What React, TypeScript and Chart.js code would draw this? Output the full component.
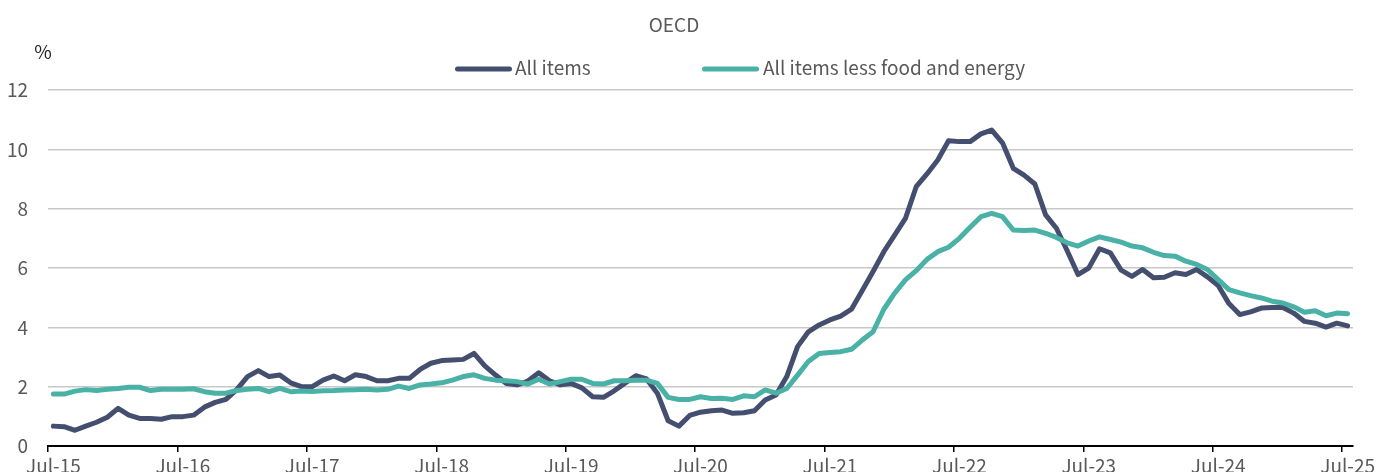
import React, { useEffect, useRef } from "react";
import { Chart, registerables } from "chart.js";

Chart.register(...registerables);

const FONT = '"Noto Sans CJK JP", "Noto Sans", sans-serif';
const TEXT_GRAY = "#595959";
const DARK = "#444e6e";
const TEAL = "#49b1a5";

const chartTitle = "OECD";
const unitLabel = "%";
const seriesNames = ["All items", "All items less food and energy"];

const tickLabels = [
  "Jul-15", "Jul-16", "Jul-17", "Jul-18", "Jul-19", "Jul-20",
  "Jul-21", "Jul-22", "Jul-23", "Jul-24", "Jul-25",
];

// Monthly, Jul-15 .. Jul-25 (121 months)
const allItems = [
  0.67, 0.65, 0.53, 0.67, 0.8, 0.97, 1.27, 1.04, 0.93, 0.93, 0.9, 0.99,
  0.99, 1.04, 1.31, 1.47, 1.57, 1.9, 2.34, 2.54, 2.34, 2.39, 2.13, 2.0,
  2.0, 2.22, 2.36, 2.2, 2.4, 2.34, 2.2, 2.2, 2.28, 2.28, 2.58, 2.79,
  2.88, 2.9, 2.92, 3.12, 2.7, 2.39, 2.11, 2.06, 2.19, 2.47, 2.2, 2.06,
  2.11, 1.96, 1.66, 1.64, 1.86, 2.12, 2.37, 2.26, 1.78, 0.85, 0.67, 1.03,
  1.14, 1.19, 1.21, 1.1, 1.12, 1.19, 1.55, 1.72, 2.34, 3.35, 3.85, 4.08,
  4.25, 4.38, 4.61, 5.24, 5.88, 6.55, 7.11, 7.67, 8.74, 9.17, 9.64, 10.29,
  10.26, 10.26, 10.52, 10.65, 10.22, 9.36, 9.13, 8.83, 7.79, 7.34, 6.58, 5.78,
  6.0, 6.65, 6.51, 5.93, 5.72, 5.95, 5.67, 5.69, 5.84, 5.78, 5.95, 5.7,
  5.41, 4.8, 4.43, 4.52, 4.65, 4.67, 4.67, 4.48, 4.2, 4.14, 4.01, 4.14,
  4.05,
];

const lessFoodEnergy = [
  1.75, 1.75, 1.85, 1.9, 1.87, 1.91, 1.94, 1.98, 1.98, 1.87, 1.91, 1.91,
  1.91, 1.93, 1.83, 1.78, 1.78, 1.87, 1.91, 1.94, 1.83, 1.94, 1.83, 1.85,
  1.84, 1.86, 1.87, 1.89, 1.9, 1.91, 1.89, 1.91, 2.02, 1.94, 2.06, 2.09,
  2.13, 2.22, 2.34, 2.4, 2.28, 2.22, 2.2, 2.17, 2.09, 2.25, 2.09, 2.17,
  2.25, 2.25, 2.11, 2.09, 2.2, 2.2, 2.22, 2.22, 2.11, 1.64, 1.57, 1.57,
  1.66, 1.6, 1.61, 1.57, 1.69, 1.66, 1.89, 1.78, 1.94, 2.39, 2.85, 3.12,
  3.15, 3.18, 3.26, 3.57, 3.85, 4.61, 5.15, 5.6, 5.91, 6.29, 6.55, 6.7,
  7.0, 7.37, 7.73, 7.84, 7.73, 7.28, 7.26, 7.28, 7.17, 7.03, 6.85, 6.74,
  6.91, 7.05, 6.96, 6.87, 6.74, 6.68, 6.53, 6.42, 6.4, 6.23, 6.12, 5.95,
  5.61, 5.27, 5.16, 5.07, 4.99, 4.88, 4.82, 4.69, 4.51, 4.56, 4.39, 4.48,
  4.46,
];

const yTicks = [0, 2, 4, 6, 8, 10, 12];

const toPoints = (arr: number[]) => arr.map((v, i) => ({ x: i, y: v }));

const overlayPlugin = {
  id: "overlayText",
  afterDraw(chart: any) {
    const ctx = chart.ctx as CanvasRenderingContext2D;
    ctx.save();
    ctx.font = `19px ${FONT}`;
    ctx.textBaseline = "middle";
    // title
    ctx.textAlign = "center";
    ctx.fillStyle = TEXT_GRAY;
    ctx.fillText(chartTitle, 674, 25);
    // unit
    ctx.fillStyle = "#262626";
    ctx.fillText(unitLabel, 43, 52);
    // legend
    const items = [
      { x0: 457.5, x1: 509.5, tx: 515, color: DARK, text: chart.data.datasets[1].label },
      { x0: 704.5, x1: 756.5, tx: 763, color: TEAL, text: chart.data.datasets[0].label },
    ];
    ctx.textAlign = "left";
    items.forEach((it) => {
      ctx.beginPath();
      ctx.lineWidth = 5;
      ctx.lineCap = "round";
      ctx.strokeStyle = it.color;
      ctx.moveTo(it.x0, 69);
      ctx.lineTo(it.x1, 69);
      ctx.stroke();
      ctx.fillStyle = TEXT_GRAY;
      ctx.fillText(it.text, it.tx, 68);
    });
    ctx.restore();
  },
};

export default function App() {
  const canvasRef = useRef<HTMLCanvasElement | null>(null);

  useEffect(() => {
    const canvas = canvasRef.current;
    if (!canvas) return;
    const chart = new Chart(canvas, {
      type: "line",
      data: {
        datasets: [
          {
            label: seriesNames[1],
            data: toPoints(lessFoodEnergy),
            borderColor: TEAL,
            backgroundColor: TEAL,
            borderWidth: 5,
            pointRadius: 0,
            tension: 0,
            borderJoinStyle: "round",
            borderCapStyle: "round",
          },
          {
            label: seriesNames[0],
            data: toPoints(allItems),
            borderColor: DARK,
            backgroundColor: DARK,
            borderWidth: 5,
            pointRadius: 0,
            tension: 0,
            borderJoinStyle: "round",
            borderCapStyle: "round",
          },
        ],
      },
      options: {
        responsive: false,
        animation: false,
        layout: { padding: { top: 90, right: 31, left: 0, bottom: 0 } },
        plugins: {
          legend: { display: false },
          title: { display: false },
          tooltip: { enabled: false },
        },
        scales: {
          x: {
            type: "linear",
            min: -0.5,
            max: 120.5,
            afterBuildTicks: (scale: any) => {
              scale.ticks = tickLabels.map((_, k) => ({ value: -0.5 + 12 * k }));
            },
            afterFit: (scale: any) => {
              scale.height = 34;
            },
            ticks: {
              autoSkip: false,
              maxRotation: 0,
              minRotation: 0,
              padding: 2,
              labelOffset: 5.4,
              color: TEXT_GRAY,
              font: { family: FONT, size: 19 },
              callback: (_v: any, index: number) => tickLabels[index],
            },
            grid: {
              display: true,
              drawOnChartArea: false,
              drawTicks: true,
              tickLength: 6,
              color: "#000000",
              lineWidth: 1.5,
            },
            border: { display: true, color: "#000000", width: 2 },
          },
          y: {
            type: "linear",
            min: 0,
            max: 12,
            afterBuildTicks: (scale: any) => {
              scale.ticks = yTicks.map((v) => ({ value: v }));
            },
            afterFit: (scale: any) => {
              scale.width = 48;
            },
            ticks: {
              padding: 20,
              color: TEXT_GRAY,
              font: { family: FONT, size: 19 },
              callback: (v: any) => String(v),
            },
            grid: {
              color: "#c8c8c8",
              lineWidth: 1.5,
              drawTicks: false,
            },
            border: { display: false },
          },
        },
      },
      plugins: [overlayPlugin],
    } as any);
    return () => chart.destroy();
  }, []);

  return (
    <div
      style={{
        position: "fixed",
        left: 0,
        top: 0,
        width: 1384,
        height: 472,
        overflow: "hidden",
        background: "#ffffff",
      }}
    >
      <canvas ref={canvasRef} width={1384} height={480} style={{ width: 1384, height: 480, display: "block" }} />
    </div>
  );
}
